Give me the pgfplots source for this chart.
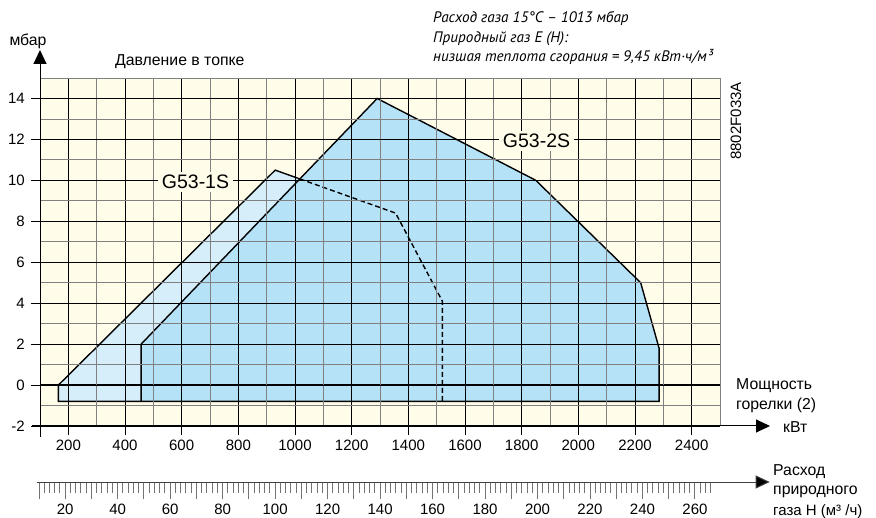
\documentclass[border=0pt]{standalone}
\usepackage{fontspec}
\setmainfont{Liberation Sans}
\newfontfamily\itfont{PT Sans}
\usepackage{pgfplots}
\pgfplotsset{compat=1.18}
\usetikzlibrary{arrows.meta}
\definecolor{cream}{RGB}{255,253,234}
\definecolor{bluelight}{RGB}{214,237,250}
\definecolor{bluemid}{RGB}{182,226,248}
\begin{document}
\fontsize{15}{18}\selectfont
\begin{tikzpicture}
\useasboundingbox (0,0) rectangle (876pt,-518pt);
\begin{axis}[
  at={(40pt,-426pt)}, anchor=south west,
  scale only axis, width=680pt, height=348pt,
  xmin=100, xmax=2500, ymin=-2, ymax=15,
  axis lines=left,
  axis background/.style={fill=cream},
  axis on top,
  xtick={200,400,...,2400}, ytick={-2,0,...,14},
  minor xtick={100,300,...,2500}, minor ytick={-1,1,...,15},
  grid=both,
  major grid style={black, line width=0.8pt},
  minor grid style={black!50, line width=0.8pt},
  tick align=outside, major tick length=9pt, minor tick length=0pt,
  tick style={black, line width=0.8pt},
  x axis line style={line width=1pt, -{Triangle[length=14pt,width=13pt]}, shorten >=-50pt, shorten <=-8pt},
  y axis line style={line width=1pt, -{Triangle[length=14pt,width=13pt]}, shorten >=-28pt, shorten <=-11pt},
  ticklabel style={font=\fontsize{15}{18}\selectfont},
  yticklabel style={xshift=-1pt},
  /pgf/number format/assume math mode=true,
  /pgf/number format/1000 sep={},
  scaled x ticks=false,
  clip=false,
]
% G53-1S area
\addplot[fill=bluelight, draw=none] coordinates {(165,-0.8) (165,0) (930,10.5) (1355,8.4) (1520,4.1) (1520,-0.8)} -- cycle;
% G53-2S area
\addplot[fill=bluemid, draw=black, line width=1.4pt] coordinates {(457,-0.8) (457,2) (1290,14) (1850,10) (2220,5) (2285,1.8) (2285,-0.8)} -- cycle;
% G53-1S outline
\addplot[black, line width=1.4pt] coordinates {(457,-0.8) (165,-0.8) (165,0) (930,10.5) (1017,10.07)};
\addplot[black, line width=1.4pt, dash pattern=on 5pt off 3pt] coordinates {(1017,10.07) (1355,8.4) (1520,4.1) (1520,-0.8)};
% zero line
\addplot[black, line width=1.3pt] coordinates {(100,0) (2500,0)};
\end{axis}
\begin{axis}[
  at={(39pt,-482pt)}, anchor=south west,
  scale only axis, width=671.7pt, height=10pt,
  xmin=10, xmax=266, ymin=0, ymax=1,
  axis x line=bottom, hide y axis,
  xtick={10,20,...,260},
  xticklabels={{},20,{},40,{},60,{},80,{},100,{},120,{},140,{},160,{},180,{},200,{},220,{},240,{},260},
  minor xtick={10,12,...,266},
  tick align=outside, major tick length=17pt, minor tick length=11pt,
  x axis line style={black!75, line width=1pt, -{Triangle[length=14pt,width=13pt,fill=black]}, shorten >=-59pt, shorten <=-2pt},
  xtick style={black!55, line width=1pt},
  ticklabel style={font=\fontsize{15}{18}\selectfont},
  /pgf/number format/assume math mode=true,
]
\end{axis}
% labels
\node[fill=cream, inner xsep=4pt, inner ysep=3pt, font=\fontsize{19.5}{22}\selectfont] at (195.5pt,-182pt) {G53-1S};
\node[fill=cream, inner xsep=4pt, inner ysep=3pt, font=\fontsize{19.5}{22}\selectfont] at (536.5pt,-141pt) {G53-2S};
\begin{scope}[every node/.style={font=\fontsize{15.8}{18}\selectfont}]
\node at (28pt,-41pt) {мбар};
\node[anchor=west, inner sep=0pt] at (115pt,-62pt) {Давление в топке};
\node[anchor=west, inner sep=0pt] at (736pt,-386pt) {Мощность};
\node[anchor=west, inner sep=0pt] at (736pt,-405pt) {горелки (2)};
\node[anchor=west, inner sep=0pt] at (783pt,-427pt) {кВт};
\node[anchor=west, inner sep=0pt] at (773pt,-472pt) {Расход};
\node[anchor=west, inner sep=0pt] at (773pt,-492pt) {природного};
\node[anchor=west, inner sep=0pt, font=\fontsize{15}{18}\selectfont] at (773pt,-512pt) {газа H (м³ /ч)};
\end{scope}
\node[rotate=90] at (736pt,-121pt) {8802F033A};
\begin{scope}[every node/.style={anchor=base west, inner sep=0pt, font=\itfont\itshape\fontsize{15.2}{17}\selectfont}]
\node at (433pt,-22.5pt) {Расход газа 15°C – 1013 мбар};
\node at (433pt,-42.5pt) {Природный газ E (H):};
\node at (433pt,-62pt) {низшая теплота сгорания = 9,45 кВт·ч/м³};
\end{scope}
\end{tikzpicture}
\end{document}
